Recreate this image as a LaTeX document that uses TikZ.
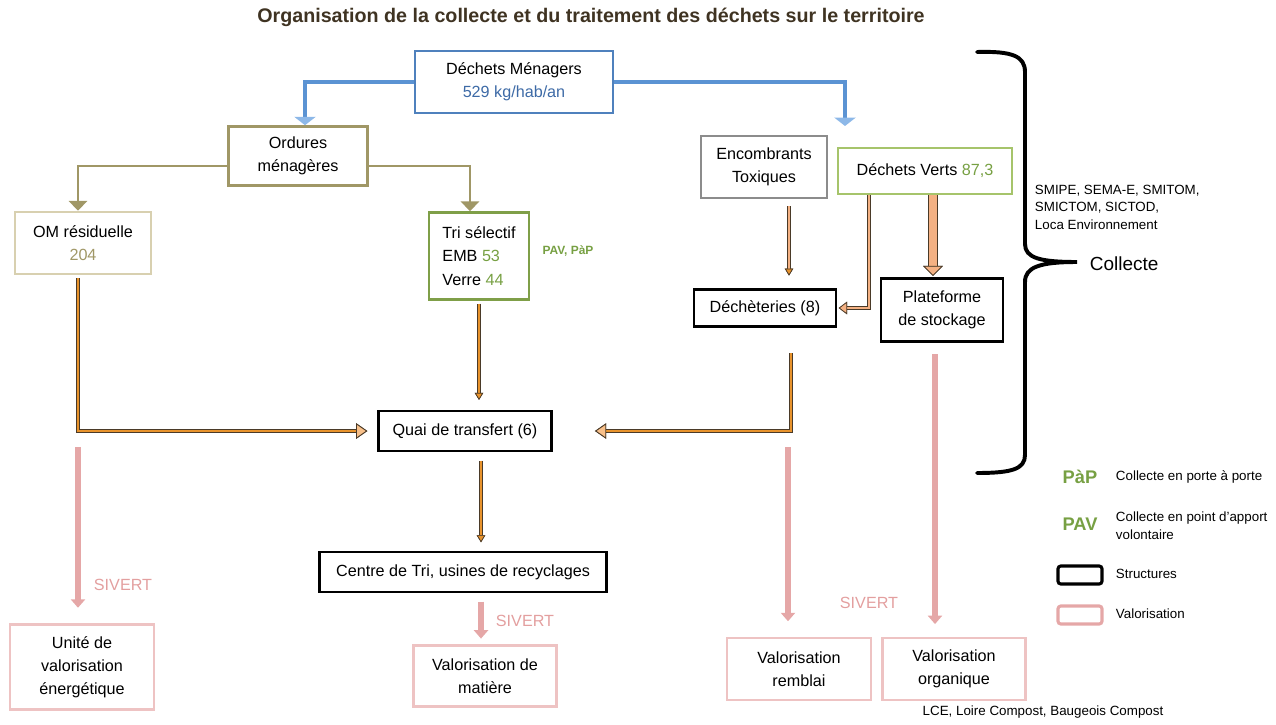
\documentclass[tikz,border=0pt]{standalone}
\usepackage{fontspec}
\setmainfont{Liberation Sans}
\usetikzlibrary{arrows.meta}

\definecolor{titlebrown}{HTML}{3F3322}
\definecolor{dmblue}{HTML}{4F81BD}
\definecolor{dmtext}{HTML}{3D6AA6}
\definecolor{arrowblue}{HTML}{5B93D3}
\definecolor{tipblue}{HTML}{8DB8E8}
\definecolor{olivebox}{HTML}{A09766}
\definecolor{beigebox}{HTML}{D8D0B0}
\definecolor{trigreen}{HTML}{7F9F48}
\definecolor{dvgreen}{HTML}{A6C46B}
\definecolor{numgreen}{HTML}{77A043}
\definecolor{greybox}{HTML}{8C8C8C}
\definecolor{flowor}{HTML}{E8932C}
\definecolor{outline}{HTML}{4A3A28}
\definecolor{tippeach}{HTML}{F8C08A}
\definecolor{peach}{HTML}{F4B183}
\definecolor{valpink}{HTML}{EEC3C3}
\definecolor{pinkarrow}{HTML}{E5A7A7}
\definecolor{sivert}{HTML}{E39F9F}

\newcommand\boxfont{\fontsize{11.5}{16.5}\selectfont}
\newcommand\smallfont{\fontsize{9.5}{12.5}\selectfont}

\begin{document}
\begin{tikzpicture}[x=0.025cm, y=-0.025cm,
    box/.style={draw, line width=1.8pt, align=center, inner sep=2pt, font=\boxfont},
    structure/.style={box, draw=black},
    valbox/.style={box, draw=valpink},
    bluearrow/.style={draw=arrowblue, line width=3.2pt,
      -{Triangle[width=15pt,length=6pt,fill=tipblue,color=tipblue]}},
    olivearrow/.style={draw=olivebox, line width=2pt,
      -{Triangle[width=13pt,length=7pt]}},
    flowline/.style={draw=flowor, line width=1.5pt, preaction={draw=outline, line width=2.9pt}},
    peachline/.style={draw=peach, line width=1.5pt, preaction={draw=outline, line width=2.9pt}},
    bigtip/.style={-{Triangle[width=11pt,length=8pt,fill=tippeach,color=outline,line width=0.6pt]}},
    smalltip/.style={-{Triangle[width=6pt,length=5pt,fill=flowor,color=outline,line width=0.5pt]}},
    valarrow/.style={draw=pinkarrow, line width=4pt, -{Triangle[width=10pt,length=6pt]}},
    sivertlabel/.style={text=sivert, font=\boxfont}
  ]
  \useasboundingbox (0,0) rectangle (1276,724);

  % title
  \node[text=titlebrown, font=\fontsize{14}{16}\bfseries\selectfont] (title) at (591,17)
    {Organisation de la collecte et du traitement des déchets sur le territoire};

  % collection side
  \node[box, draw=dmblue, minimum width=4.95cm, minimum height=1.55cm] (dm) at (514,82)
    {Déchets Ménagers\\\textcolor{dmtext}{529 kg/hab/an}};
  \node[box, draw=olivebox, minimum width=3.475cm, minimum height=1.475cm] (om) at (298,156)
    {Ordures\\ménagères};
  \node[box, draw=beigebox, minimum width=3.4cm, minimum height=1.55cm] (omr) at (83,243)
    {OM résiduelle\\\textcolor{olivebox}{204}};
  \node[box, draw=trigreen, align=left, minimum width=2.5cm, minimum height=2.175cm] (tri) at (479,256)
    {Tri sélectif\\EMB \textcolor{numgreen}{53}\\Verre \textcolor{numgreen}{44}};
  \node[text=numgreen, font=\fontsize{8.5}{10}\bfseries\selectfont] (pavpap) at (568,251) {PAV, PàP};
  \node[box, draw=greybox, minimum width=3.15cm, minimum height=1.55cm] (enc) at (764,167)
    {Encombrants\\Toxiques};
  \node[box, draw=dvgreen, minimum width=4.35cm, minimum height=1.15cm] (dv) at (925,171)
    {Déchets Verts \textcolor{numgreen}{87,3}};
  \coordinate (dvtop) at (845,126);

  % structures
  \node[structure, minimum width=3.55cm, minimum height=0.925cm] (dech) at (765,308) {Déchèteries (8)};
  \node[structure, minimum width=3.05cm, minimum height=1.575cm] (plat) at (942,310)
    {Plateforme\\de stockage};
  \node[structure, minimum width=4.325cm, minimum height=1cm] (quai) at (465,431) {Quai de transfert (6)};
  \node[structure, minimum width=7.175cm, minimum height=1cm] (centre) at (463,572)
    {Centre de Tri, usines de recyclages};

  % valorisation
  \node[valbox, minimum width=3.6cm, minimum height=2.125cm] (unite) at (82,667)
    {Unité de\\valorisation\\énergétique};
  \node[valbox, minimum width=3.575cm, minimum height=1.525cm] (vmat) at (485,676)
    {Valorisation de\\matière};
  \node[valbox, minimum width=3.6cm, minimum height=1.55cm] (vrem) at (799,669)
    {Valorisation\\remblai};
  \node[valbox, minimum width=3.575cm, minimum height=1.55cm] (vorg) at (954,669)
    {Valorisation\\organique};
  \node[font=\smallfont] (lce) at (1043,712) {LCE, Loire Compost, Baugeois Compost};

  \node[sivertlabel] (sivert1) at (123,585) {SIVERT};
  \node[sivertlabel] (sivert2) at (525,621) {SIVERT};
  \node[sivertlabel] (sivert3) at (869,603) {SIVERT};

  % connectors
  \draw[bluearrow] (dm.west) -| ([xshift=0.175cm]om.north);
  \draw[bluearrow] (dm.east) -| (dvtop);
  \draw[olivearrow] ([yshift=-0.25cm]om.west) -| ([xshift=-0.125cm]omr.north);
  \draw[olivearrow] ([yshift=-0.25cm]om.east) -| ([xshift=-0.225cm]tri.north);

  \draw[flowline, bigtip, shorten <=2pt, shorten >=7pt] ([xshift=-0.125cm]omr.south) |- (quai.west);
  \draw[flowline, smalltip, shorten <=2pt, shorten >=7pt] (tri.south) -- (tri.south |- quai.north);
  \draw[flowline, bigtip, shorten <=18pt, shorten >=30pt] ([xshift=0.65cm]dech.south) |- (quai.east);
  \draw[flowline, smalltip, shorten <=6pt, shorten >=6pt] ([xshift=0.4cm]quai.south) -- ([xshift=0.4cm]quai.south |- centre.north);

  \draw[peachline, smalltip, shorten <=5pt, shorten >=9pt] ([xshift=0.625cm]enc.south) -- ([xshift=0.625cm]enc.south |- dech.north);
  \draw[peachline, -{Triangle[width=9pt,length=6pt,fill=peach,color=outline,line width=0.5pt]}, shorten >=1pt]
    ([xshift=-1.4cm]dv.south) |- (dech.east);
  \draw[draw=peach, line width=5pt, preaction={draw=outline, line width=6.6pt},
    -{Triangle[width=14pt,length=7pt,fill=peach,color=outline,line width=0.5pt]}, shorten >=1pt]
    ([xshift=0.2cm]dv.south) -- ([xshift=0.2cm]dv.south |- plat.north);

  \draw[valarrow, shorten <=122pt, shorten >=11pt] ([xshift=-0.125cm]omr.south) -- ([xshift=-0.125cm]omr.south |- unite.north);
  \draw[valarrow, shorten <=6pt, shorten >=4pt] ([xshift=0.45cm]centre.south) -- ([xshift=0.45cm]centre.south |- vmat.north);
  \draw[valarrow, shorten <=85pt, shorten >=11pt] ([xshift=0.575cm]dech.south) -- ([xshift=0.575cm]dech.south |- vrem.north);
  \draw[valarrow, shorten <=8pt, shorten >=9pt] ([xshift=-0.175cm]plat.south) -- ([xshift=-0.175cm]plat.south |- vorg.north);

  % brace
  \draw[line width=2.8pt, line cap=round] (977,52) .. controls (1012,51) and (1025,56) .. (1025,72)
    -- (1025,244) .. controls (1025,258) and (1040,262) .. (1077,262)
    .. controls (1040,262) and (1025,267) .. (1025,282)
    -- (1025,455) .. controls (1025,469) and (1012,473) .. (977,473);
  \node[font=\smallfont, align=left, anchor=west] (syndicats) at (1030,207)
    {SMIPE, SEMA-E, SMITOM,\\SMICTOM, SICTOD,\\Loca Environnement};
  \node[font=\fontsize{13.5}{16}\selectfont, anchor=west] (collecte) at (1085,264) {Collecte};

  % legend
  \node[text=numgreen, font=\fontsize{13}{15}\bfseries\selectfont] (pap) at (1080,477) {PàP};
  \node[font=\smallfont, anchor=west] (paptxt) at (1111,477) {Collecte en porte à porte};
  \node[text=numgreen, font=\fontsize{13}{15}\bfseries\selectfont] (pav) at (1080,524) {PAV};
  \node[font=\smallfont, align=left, anchor=west] (pavtxt) at (1111,526)
    {Collecte en point d’apport\\volontaire};
  \node[draw=black, line width=2.2pt, rounded corners=2pt, minimum width=1.1cm, minimum height=0.45cm] (legstruct) at (1080,575) {};
  \node[font=\smallfont, anchor=west] (structtxt) at (1111,574) {Structures};
  \node[draw=pinkarrow, line width=2.2pt, rounded corners=2pt, minimum width=1.1cm, minimum height=0.45cm] (legval) at (1080,615) {};
  \node[font=\smallfont, anchor=west] (valtxt) at (1111,614) {Valorisation};
\end{tikzpicture}
\end{document}
